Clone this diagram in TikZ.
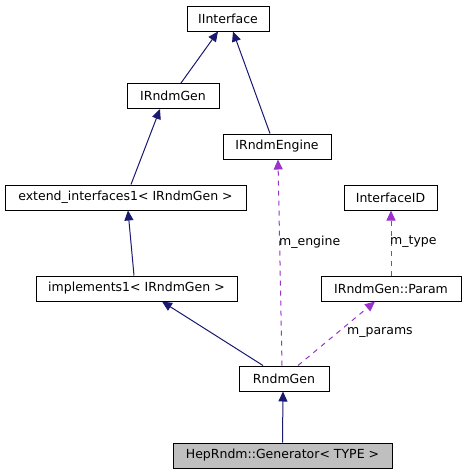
\documentclass[tikz,border=0pt]{standalone}
\usepackage{fontspec}
\setmainfont{DejaVu Sans}
\usetikzlibrary{arrows.meta}
\definecolor{inhcol}{HTML}{191970}
\definecolor{usecol}{HTML}{9A32CD}
\definecolor{boxgray}{HTML}{BFBFBF}
\begin{document}
\begin{tikzpicture}[x=1pt,y=-1pt,
  cls/.style={draw=black, line width=1pt, rectangle, minimum height=25pt, inner sep=0pt,
    font=\fontsize{12.5}{14}\selectfont, fill=white},
  inh/.style={draw=inhcol, line width=1pt, -{Triangle[length=10pt,width=9pt]}, color=inhcol},
  use/.style={draw=usecol, line width=1pt, dash pattern=on 5pt off 5pt, -{Triangle[length=10pt,width=9pt]}, color=usecol},
  lbl/.style={anchor=west, inner sep=0pt, font=\fontsize{12.5}{14}\selectfont}]
\useasboundingbox (0,0) rectangle (465,475);
\node[cls, minimum width=82pt]  (iif)  at (228,18.5) {IInterface};
\node[cls, minimum width=92pt]  (irg)  at (173,96) {IRndmGen};
\node[cls, minimum width=108pt] (ire)  at (277,146.5) {IRndmEngine};
\node[cls, minimum width=241pt] (ext)  at (125.5,197.5) {extend\_interfaces1< IRndmGen >};
\node[cls, minimum width=93pt]  (iid)  at (390.5,197.5) {InterfaceID};
\node[cls, minimum width=201pt] (imp)  at (136.5,288.5) {implements1< IRndmGen >};
\node[cls, minimum width=140pt] (par)  at (391,288.5) {IRndmGen::Param};
\node[cls, minimum width=90pt]  (rg)   at (284,378.5) {RndmGen};
\node[cls, minimum width=219pt, fill=boxgray] (hep) at (282.5,455.5) {HepRndm::Generator< TYPE >};

\draw[inh] ([xshift=8pt]irg.north) -- ([xshift=-10pt]iif.south);
\draw[inh] ([xshift=-7pt]ire.north) -- ([xshift=5pt]iif.south);
\draw[inh] ([xshift=5.5pt]ext.north) -- ([xshift=-13pt]irg.south);
\draw[inh] ([xshift=-2.5pt]imp.north) -- ([xshift=2.5pt]ext.south);
\draw[inh] ([xshift=-21pt]rg.north) -- ([xshift=25.5pt]imp.south);
\draw[inh] ([xshift=0pt]hep.north) -- ([xshift=-1pt]rg.south);

\draw[use] ([xshift=-2pt]rg.north) -- ([xshift=1pt]ire.south);
\draw[use] ([xshift=14pt]rg.north) -- ([xshift=-16pt]par.south);
\draw[use] ([xshift=0pt]par.north) -- ([xshift=0.5pt]iid.south);

\node[lbl] (lengine) at (279,242) {m\_engine};
\node[lbl] (ltype)   at (390,242) {m\_type};
\node[lbl] (lparams) at (347,332) {m\_params};
\end{tikzpicture}
\end{document}
